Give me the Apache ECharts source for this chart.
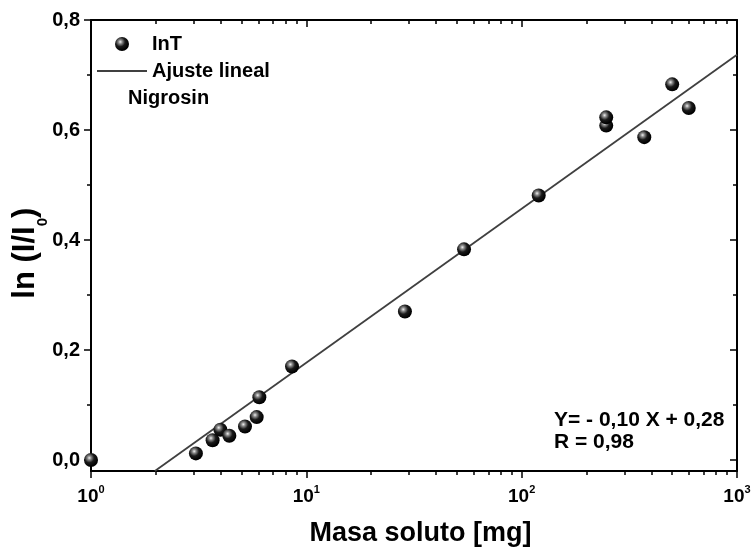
<!DOCTYPE html>
<html>
<head>
<meta charset="utf-8">
<script src="https://cdn.jsdelivr.net/npm/echarts@6/dist/echarts.min.js"></script>
<style>html,body{margin:0;padding:0;background:#fff}#c{width:752px;height:547px}</style>
</head>
<body>
<div id="c"></div>
<script>
// ---- data ----
const masaSoluto = [1.0, 3.07, 3.67, 3.99, 4.39, 5.19, 5.88, 6.05, 8.58, 28.7, 54.0, 120, 247, 247, 371, 500, 597];
const lnIoverI0  = [0.0, 0.012, 0.036, 0.055, 0.044, 0.061, 0.078, 0.114, 0.170, 0.270, 0.383, 0.481, 0.608, 0.623, 0.587, 0.683, 0.640];
const fitX = [1.98, 1000];
const fitY = [-0.02, 0.737];
const yMajorTicks = [0, 0.2, 0.4, 0.6, 0.8];
const yMinorTicks = [0.1, 0.3, 0.5, 0.7];
const xDecades = [0, 1, 2, 3];
const xMinorMultipliers = [2, 3, 4, 5, 6, 7, 8, 9];
const legendNames = ['InT', 'Ajuste lineal'];
const annotation = ['Y= - 0,10 X + 0,28', 'R = 0,98'];
const sampleName = 'Nigrosin';

const xMinorTicks = [];
[0, 1, 2].forEach(d => xMinorMultipliers.forEach(m => xMinorTicks.push(d + Math.log10(m))));

const FONT = '"Liberation Sans", Arial, sans-serif';
const scatterData = masaSoluto.map((x, i) => [x, lnIoverI0[i]]);
const fitData = fitX.map((x, i) => [x, fitY[i]]);

const sphere = {
  type: 'radial', x: 0.38, y: 0.35, r: 0.62,
  colorStops: [
    {offset: 0, color: '#f0f0f0'},
    {offset: 0.22, color: '#8a8a8a'},
    {offset: 0.55, color: '#1a1a1a'},
    {offset: 1, color: '#000'}
  ]
};

const lineStyleAxis = {color: '#000', width: 2};
const tickStyle = {color: '#000', width: 1.5};

function tickAxis(extra) {
  const base = {
    type: 'value', splitLine: {show: false},
    axisLabel: {show: false}, axisLine: {show: false, onZero: false}
  };
  const o = Object.assign(base, extra);
  o.axisLine = Object.assign({onZero: false}, o.axisLine);
  return o;
}

const chart = echarts.init(document.getElementById('c'), null, {renderer: 'canvas'});
chart.setOption({
  animation: false,
  backgroundColor: '#fff',
  grid: {left: 91, right: 15, top: 20, bottom: 76, containLabel: false, outerBoundsMode: 'none'},
  legend: {
    orient: 'vertical', left: 92, top: 29,
    itemWidth: 50, itemHeight: 14, itemGap: 7,
    data: [
      {name: legendNames[0]},
      {name: legendNames[1], icon: 'path://M0,0L100,0L100,3.6L0,3.6Z'}
    ],
    textStyle: {fontFamily: FONT, fontWeight: 'bold', fontSize: 20, color: '#000'}
  },
  xAxis: [
    {
      type: 'log', logBase: 10, min: 1, max: 1000, position: 'bottom',
      splitLine: {show: false},
      axisLine: {onZero: false, lineStyle: lineStyleAxis},
      axisTick: {length: 7, lineStyle: tickStyle},
      axisLabel: {
        margin: 13, color: '#000',
        formatter: v => '{b|10}{p|' + Math.round(Math.log10(v)) + '}',
        rich: {
          b: {fontFamily: FONT, fontWeight: 'bold', fontSize: 19, lineHeight: 22, verticalAlign: 'bottom', color: '#000'},
          p: {fontFamily: FONT, fontWeight: 'bold', fontSize: 11, lineHeight: 11, verticalAlign: 'top', color: '#000'}
        }
      },
      name: 'Masa soluto [mg]', nameLocation: 'middle', nameGap: 49, nameMoveOverlap: false,
      nameTextStyle: {fontFamily: FONT, fontWeight: 'bold', fontSize: 27, color: '#000', padding: [0, 0, 0, 13]}
    },
    tickAxis({min: 0, max: 3, position: 'bottom', axisTick: {length: 4, lineStyle: tickStyle, customValues: xMinorTicks}}),
    tickAxis({min: 0, max: 3, position: 'top', axisLine: {show: true, lineStyle: lineStyleAxis},
      axisTick: {inside: true, length: 7, lineStyle: tickStyle, customValues: xDecades}}),
    tickAxis({min: 0, max: 3, position: 'top', axisTick: {inside: true, length: 4, lineStyle: tickStyle, customValues: xMinorTicks}})
  ],
  yAxis: [
    {
      type: 'value', min: -0.02, max: 0.8, position: 'left',
      splitLine: {show: false},
      axisLine: {onZero: false, lineStyle: lineStyleAxis},
      axisTick: {length: 7, lineStyle: tickStyle, customValues: yMajorTicks},
      axisLabel: {
        margin: 11, customValues: yMajorTicks, color: '#000',
        fontFamily: FONT, fontWeight: 'bold', fontSize: 20,
        formatter: v => v.toFixed(1).replace('.', ',')
      },
      name: '{a|ln (I/I}{s|0}{a|)}{z| }', nameLocation: 'middle', nameGap: 41, nameRotate: 90,
      nameMoveOverlap: false,
      nameTextStyle: {
        padding: [0, 15, 0, 0],
        rich: {
          a: {fontFamily: FONT, fontWeight: 'bold', fontSize: 31, lineHeight: 31, verticalAlign: 'top', color: '#000'},
          s: {fontFamily: FONT, fontWeight: 'bold', fontSize: 15, lineHeight: 15, verticalAlign: 'bottom', color: '#000'},
          z: {fontSize: 1, lineHeight: 40, color: 'rgba(0,0,0,0)'}
        }
      }
    },
    tickAxis({min: -0.02, max: 0.8, position: 'left', axisTick: {length: 4, lineStyle: tickStyle, customValues: yMinorTicks}}),
    tickAxis({min: -0.02, max: 0.8, position: 'right', axisLine: {show: true, lineStyle: lineStyleAxis},
      axisTick: {inside: true, length: 7, lineStyle: tickStyle, customValues: yMajorTicks}}),
    tickAxis({min: -0.02, max: 0.8, position: 'right', axisTick: {inside: true, length: 4, lineStyle: tickStyle, customValues: yMinorTicks}})
  ],
  series: [
    {
      name: legendNames[0], type: 'scatter', xAxisIndex: 0, yAxisIndex: 0,
      data: scatterData, symbol: 'circle', symbolSize: 14, z: 3,
      itemStyle: {color: sphere, opacity: 1}
    },
    {
      name: legendNames[1], type: 'line', xAxisIndex: 0, yAxisIndex: 0,
      data: fitData, symbol: 'none', showSymbol: false, clip: true, z: 2,
      lineStyle: {color: '#404040', width: 1.8}, itemStyle: {color: '#404040'}
    }
  ],
  graphic: [
    {type: 'text', left: 128, top: 88, style: {text: sampleName, fontFamily: FONT, fontWeight: 'bold', fontSize: 20, fill: '#000'}},
    {type: 'text', left: 554, top: 410, style: {text: annotation[0], fontFamily: FONT, fontWeight: 'bold', fontSize: 21, fill: '#000'}},
    {type: 'text', left: 554, top: 432, style: {text: annotation[1], fontFamily: FONT, fontWeight: 'bold', fontSize: 21, fill: '#000'}}
  ]
});
</script>
</body>
</html>
